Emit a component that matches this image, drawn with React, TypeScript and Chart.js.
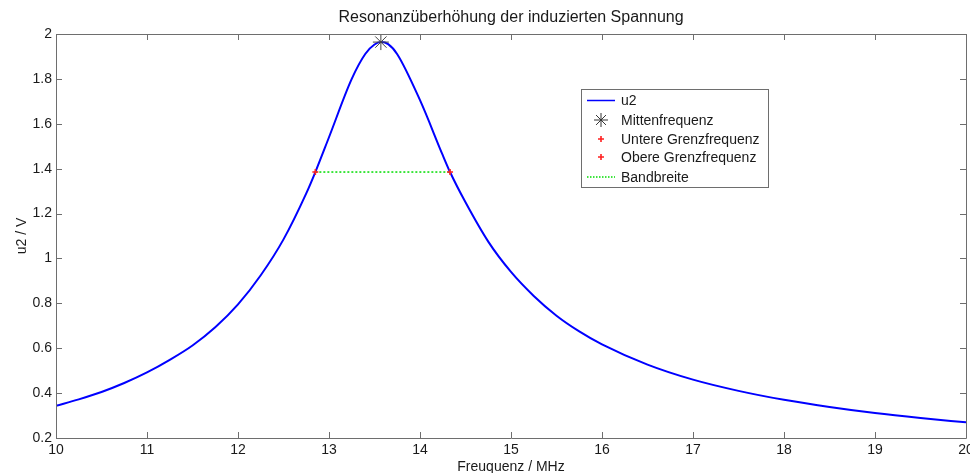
import React, { useEffect, useRef } from "react";
import { Chart, registerables } from "chart.js";

Chart.register(...registerables);

// Frequency (MHz) and induced voltage u2 (V)
const freqMHz = [10, 10.25, 10.5, 10.75, 11, 11.25, 11.5, 11.75, 12, 12.25, 12.5, 12.75, 12.85, 13, 13.25, 13.4, 13.5, 13.57, 13.65, 13.75, 14, 14.25, 14.33, 14.5, 14.75, 15, 15.25, 15.5, 15.75, 16, 16.5, 17, 17.5, 18, 18.5, 19, 19.5, 20];
const u2Volts = [0.343, 0.372, 0.405, 0.445, 0.492, 0.548, 0.612, 0.693, 0.795, 0.925, 1.085, 1.29, 1.385, 1.54, 1.8, 1.912, 1.953, 1.964, 1.955, 1.91, 1.705, 1.46, 1.385, 1.25, 1.075, 0.94, 0.833, 0.745, 0.675, 0.617, 0.527, 0.46, 0.41, 0.37, 0.338, 0.311, 0.289, 0.27];

const centerFreq = 13.57;
const centerVolt = 1.964;
const lowerFreq = 12.85;
const upperFreq = 14.33;
const cutoffVolt = 1.385;

const xTicks = [10, 11, 12, 13, 14, 15, 16, 17, 18, 19, 20];
const yTicks = [0.2, 0.4, 0.6, 0.8, 1, 1.2, 1.4, 1.6, 1.8, 2];

const legendLabels = ["u2", "Mittenfrequenz", "Untere Grenzfrequenz", "Obere Grenzfrequenz", "Bandbreite"];

const titleText = "Resonanzüberhöhung der induzierten Spannung";
const xLabel = "Freuquenz / MHz";
const yLabel = "u2 / V";

const FONT = "'Liberation Sans', Arial, sans-serif";
const AXIS = "#6e6e6e";
const TEXT = "#1a1a1a";

const boxPlugin = {
  id: "matlabBox",
  afterDraw(chart: any) {
    const { ctx, chartArea: a, scales } = chart;
    const xs = scales.x;
    const ys = scales.y;
    ctx.save();
    ctx.strokeStyle = AXIS;
    ctx.lineWidth = 1;
    ctx.beginPath();
    ctx.rect(Math.round(a.left) + 0.5, Math.round(a.top) + 0.5, Math.round(a.right - a.left), Math.round(a.bottom - a.top));
    ctx.stroke();
    const tl = 6;
    ctx.beginPath();
    xTicks.forEach((t) => {
      const px = Math.round(xs.getPixelForValue(t)) + 0.5;
      ctx.moveTo(px, a.bottom);
      ctx.lineTo(px, a.bottom - tl);
      ctx.moveTo(px, a.top);
      ctx.lineTo(px, a.top + tl);
    });
    yTicks.forEach((t) => {
      const py = Math.round(ys.getPixelForValue(t)) + 0.5;
      ctx.moveTo(a.left, py);
      ctx.lineTo(a.left + tl, py);
      ctx.moveTo(a.right, py);
      ctx.lineTo(a.right - tl, py);
    });
    ctx.stroke();

    // title and axis labels
    ctx.fillStyle = TEXT;
    ctx.textAlign = "center";
    ctx.textBaseline = "alphabetic";
    ctx.font = `16px ${FONT}`;
    const cx = (a.left + a.right) / 2;
    ctx.fillText(titleText, cx, 22);
    ctx.font = `14px ${FONT}`;
    ctx.fillText(xLabel, cx, 471);
    ctx.save();
    ctx.translate(26, (a.top + a.bottom) / 2);
    ctx.rotate(-Math.PI / 2);
    ctx.fillText(yLabel, 0, 0);
    ctx.restore();

    // legend
    const lx = 581, ly = 89, lw = 187, lh = 98;
    ctx.fillStyle = "#ffffff";
    ctx.fillRect(lx, ly, lw, lh);
    ctx.strokeStyle = AXIS;
    ctx.strokeRect(lx + 0.5, ly + 0.5, lw, lh);
    const rows = [100.5, 120, 139, 157, 177];
    const sx0 = 587, sx1 = 615, sxc = 601;
    ctx.strokeStyle = "#0000ff";
    ctx.lineWidth = 1.5;
    ctx.beginPath();
    ctx.moveTo(sx0, rows[0]);
    ctx.lineTo(sx1, rows[0]);
    ctx.stroke();
    ctx.strokeStyle = "#333333";
    ctx.lineWidth = 1;
    ctx.beginPath();
    const r = 7;
    for (let k = 0; k < 4; k++) {
      const ang = (k * Math.PI) / 4;
      ctx.moveTo(sxc - r * Math.cos(ang), rows[1] - r * Math.sin(ang));
      ctx.lineTo(sxc + r * Math.cos(ang), rows[1] + r * Math.sin(ang));
    }
    ctx.stroke();
    ctx.strokeStyle = "#ff2020";
    ctx.lineWidth = 1.6;
    [rows[2], rows[3]].forEach((yy) => {
      ctx.beginPath();
      ctx.moveTo(sxc - 3, yy);
      ctx.lineTo(sxc + 3, yy);
      ctx.moveTo(sxc, yy - 3);
      ctx.lineTo(sxc, yy + 3);
      ctx.stroke();
    });
    ctx.strokeStyle = "#00dd00";
    ctx.lineWidth = 1.5;
    ctx.setLineDash([1.5, 1.5]);
    ctx.beginPath();
    ctx.moveTo(sx0, rows[4]);
    ctx.lineTo(sx1, rows[4]);
    ctx.stroke();
    ctx.setLineDash([]);
    ctx.fillStyle = TEXT;
    ctx.font = `14px ${FONT}`;
    ctx.textAlign = "left";
    ctx.textBaseline = "middle";
    legendLabels.forEach((lab, i) => ctx.fillText(lab, 621, rows[i] + 1));
    ctx.restore();
  },
};

export default function App() {
  const ref = useRef<HTMLCanvasElement | null>(null);
  useEffect(() => {
    if (!ref.current) return;
    const chart = new Chart(ref.current, {
      type: "line",
      data: {
        datasets: [
          {
            label: "u2",
            data: freqMHz.map((f, i) => ({ x: f, y: u2Volts[i] })),
            borderColor: "#0000ff",
            borderWidth: 2,
            pointRadius: 0,
            cubicInterpolationMode: "monotone",
            order: 5,
          },
          {
            label: "Bandbreite",
            data: [
              { x: lowerFreq, y: cutoffVolt },
              { x: upperFreq, y: cutoffVolt },
            ],
            borderColor: "#00dd00",
            borderWidth: 1.5,
            borderDash: [2, 2],
            pointRadius: 0,
            order: 4,
          },
          {
            label: "Mittenfrequenz",
            data: [{ x: centerFreq, y: centerVolt }],
            showLine: false,
            pointStyle: "star",
            pointRadius: 8,
            pointBorderColor: "#444444",
            pointBorderWidth: 1,
            clip: false,
            order: 1,
          },
          {
            label: "Untere Grenzfrequenz",
            data: [{ x: lowerFreq, y: cutoffVolt }],
            showLine: false,
            pointStyle: "cross",
            pointRadius: 3,
            pointBorderColor: "#ff2020",
            pointBorderWidth: 1.6,
            order: 2,
          },
          {
            label: "Obere Grenzfrequenz",
            data: [{ x: upperFreq, y: cutoffVolt }],
            showLine: false,
            pointStyle: "cross",
            pointRadius: 3,
            pointBorderColor: "#ff2020",
            pointBorderWidth: 1.6,
            order: 3,
          },
        ],
      },
      options: {
        animation: false,
        responsive: true,
        maintainAspectRatio: false,
        layout: { autoPadding: false, padding: { top: 34, left: 0, right: 4, bottom: 0 } },
        plugins: { legend: { display: false }, title: { display: false }, tooltip: { enabled: false } },
        scales: {
          x: {
            type: "linear",
            min: 10,
            max: 20,
            afterBuildTicks: (s: any) => {
              s.ticks = xTicks.map((v) => ({ value: v }));
            },
            ticks: { color: TEXT, font: { family: FONT, size: 14 }, padding: 4, maxRotation: 0, autoSkip: false },
            grid: { display: false, drawTicks: false },
            border: { display: false },
            afterFit: (s: any) => {
              s.height = 35;
              s.paddingLeft = 0;
              s.paddingRight = 0;
            },
          },
          y: {
            type: "linear",
            min: 0.2,
            max: 2,
            afterBuildTicks: (s: any) => {
              s.ticks = yTicks.map((v) => ({ value: v }));
            },
            ticks: {
              color: TEXT,
              font: { family: FONT, size: 14 },
              padding: 4,
              autoSkip: false,
              callback: (v: any) => String(+Number(v).toFixed(1)),
            },
            grid: { display: false, drawTicks: false },
            border: { display: false },
            afterFit: (s: any) => {
              s.width = 56;
              s.paddingTop = 0;
              s.paddingBottom = 0;
            },
          },
        },
      },
      plugins: [boxPlugin],
    } as any);
    return () => chart.destroy();
  }, []);
  return (
    <div style={{ position: "fixed", left: 0, top: 0, width: 970, height: 473, background: "#fff" }}>
      <canvas ref={ref} />
    </div>
  );
}
